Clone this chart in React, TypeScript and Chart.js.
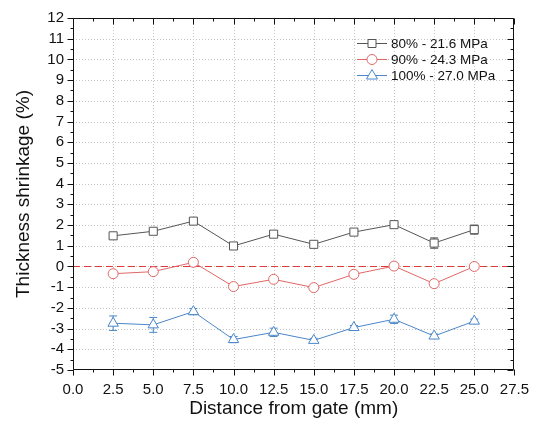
import React, { useEffect, useRef } from "react";
import { Chart, registerables } from "chart.js";
Chart.register(...registerables);

const distances = [2.5, 5, 7.5, 10, 12.5, 15, 17.5, 20, 22.5, 25];
const s80 = [1.48, 1.7, 2.19, 0.99, 1.56, 1.07, 1.66, 2.02, 1.13, 1.78];
const e80 = [0.1, 0.08, 0.1, 0.08, 0.1, 0.08, 0.1, 0.1, 0.25, 0.22];
const s90 = [-0.35, -0.25, 0.2, -0.97, -0.62, -1.02, -0.38, 0.02, -0.83, 0.0];
const e90 = [0.05, 0.08, 0.08, 0.05, 0.05, 0.05, 0.05, 0.05, 0.05, 0.05];
const s100 = [-2.74, -2.82, -2.18, -3.53, -3.18, -3.57, -2.95, -2.55, -3.36, -2.64];
const e100 = [0.35, 0.36, 0.15, 0.15, 0.2, 0.1, 0.1, 0.2, 0.1, 0.1];
const seriesLabels = ["80% - 21.6 MPa", "90% - 24.3 MPa", "100% - 27.0 MPa"];
const seriesColors = ["#555555", "#e06666", "#4a86c8"];
const seriesShapes = ["rect", "circle", "triangle"];
const errors = [e80, e90, e100];
const FONT = "'Liberation Sans', Arial, sans-serif";

function drawMarker(ctx: CanvasRenderingContext2D, shape: string, x: number, y: number, color: string) {
  ctx.save();
  ctx.setLineDash([]);
  ctx.strokeStyle = color;
  ctx.fillStyle = "#ffffff";
  ctx.lineWidth = 1;
  ctx.beginPath();
  if (shape === "rect") {
    ctx.rect(x - 4, y - 4, 8, 8);
  } else if (shape === "circle") {
    ctx.arc(x, y, 5, 0, Math.PI * 2);
  } else {
    ctx.moveTo(x, y - 6);
    ctx.lineTo(x + 5.5, y + 3.5);
    ctx.lineTo(x - 5.5, y + 3.5);
    ctx.closePath();
  }
  ctx.fill();
  ctx.stroke();
  ctx.restore();
}

const decor = {
  id: "decor",
  beforeDatasetsDraw(chart: any) {
    const { ctx, chartArea: a, scales } = chart;
    const x = scales.x, y = scales.y;
    ctx.save();
    ctx.strokeStyle = "#c4c4c4";
    ctx.lineWidth = 1;
    ctx.setLineDash([1, 2]);
    x.ticks.forEach((t: any) => {
      const px = Math.round(x.getPixelForValue(t.value)) + 0.5;
      if (px <= a.left + 1 || px >= a.right - 1) return;
      ctx.beginPath(); ctx.moveTo(px, a.top); ctx.lineTo(px, a.bottom); ctx.stroke();
    });
    y.ticks.forEach((t: any) => {
      const py = Math.round(y.getPixelForValue(t.value)) + 0.5;
      if (py <= a.top + 1 || py >= a.bottom - 1) return;
      ctx.beginPath(); ctx.moveTo(a.left, py); ctx.lineTo(a.right, py); ctx.stroke();
    });
    // zero reference line
    ctx.strokeStyle = "#e03a3a";
    ctx.setLineDash([7, 4]);
    const zy = Math.round(y.getPixelForValue(0)) + 0.5;
    ctx.beginPath(); ctx.moveTo(a.left, zy); ctx.lineTo(a.right, zy); ctx.stroke();
    // error bars
    ctx.setLineDash([]);
    chart.data.datasets.forEach((ds: any, i: number) => {
      const errs = errors[i];
      ctx.strokeStyle = seriesColors[i];
      ds.data.forEach((p: any, j: number) => {
        const px = x.getPixelForValue(p.x);
        const y1 = y.getPixelForValue(p.y + errs[j]);
        const y2 = y.getPixelForValue(p.y - errs[j]);
        ctx.beginPath();
        ctx.moveTo(px, y1); ctx.lineTo(px, y2);
        ctx.moveTo(px - 4, y1); ctx.lineTo(px + 4, y1);
        ctx.moveTo(px - 4, y2); ctx.lineTo(px + 4, y2);
        ctx.stroke();
      });
    });
    ctx.restore();
  },
  afterDraw(chart: any) {
    const { ctx, chartArea: a, scales } = chart;
    const x = scales.x, y = scales.y;
    ctx.save();
    ctx.setLineDash([]);
    ctx.strokeStyle = "#111111";
    ctx.lineWidth = 1;
    const L = Math.round(a.left) + 0.5, R = Math.round(a.right) - 0.5;
    const T = Math.round(a.top) + 0.5, B = Math.round(a.bottom) - 0.5;
    ctx.beginPath();
    ctx.rect(L, T, R - L, B - T);
    ctx.stroke();
    ctx.beginPath();
    // x ticks
    for (let v = 0; v <= 27.5 + 1e-6; v += 1.25) {
      const major = Math.abs(v / 2.5 - Math.round(v / 2.5)) < 1e-6;
      const px = Math.round(x.getPixelForValue(v)) + 0.5;
      const len = major ? 6 : 3;
      ctx.moveTo(px, B); ctx.lineTo(px, B + len);
      ctx.moveTo(px, T); ctx.lineTo(px, T + len);
    }
    // y ticks
    for (let v = -5; v <= 12 + 1e-6; v += 0.5) {
      const major = Math.abs(v - Math.round(v)) < 1e-6;
      const py = Math.round(y.getPixelForValue(v)) + 0.5;
      const len = major ? 6 : 3;
      ctx.moveTo(L, py); ctx.lineTo(L - len, py);
      ctx.moveTo(R, py); ctx.lineTo(R - len, py);
    }
    ctx.stroke();
    // legend
    const rowYs = [43, 59, 75];
    ctx.font = `13.5px ${FONT}`;
    ctx.textBaseline = "middle";
    ctx.textAlign = "left";
    seriesLabels.forEach((lab, i) => {
      const ry = rowYs[i] + 0.5;
      ctx.strokeStyle = seriesColors[i];
      ctx.beginPath(); ctx.moveTo(357, ry); ctx.lineTo(387, ry); ctx.stroke();
      drawMarker(ctx, seriesShapes[i], 372, ry, seriesColors[i]);
      ctx.fillStyle = "#111111";
      ctx.fillText(lab, 391, rowYs[i] + 1);
    });
    ctx.restore();
  },
};

export default function App() {
  const ref = useRef<HTMLCanvasElement | null>(null);
  useEffect(() => {
    document.body.style.margin = "0";
    const series = [s80, s90, s100];
    const chart = new Chart(ref.current as HTMLCanvasElement, {
      type: "line",
      data: {
        datasets: series.map((s, i) => ({
          label: seriesLabels[i],
          data: distances.map((d, j) => ({ x: d, y: s[j] })),
          borderColor: seriesColors[i],
          borderWidth: 1,
          pointStyle: seriesShapes[i] as any,
          pointRadius: i === 0 ? 5.7 : i === 1 ? 5 : 6,
          pointBorderColor: seriesColors[i],
          pointBackgroundColor: "#ffffff",
          pointBorderWidth: 1,
          tension: 0,
          fill: false,
        })),
      },
      options: {
        animation: false,
        responsive: false,
        layout: { padding: { top: 14, right: 24, left: 0, bottom: 0 } },
        plugins: { legend: { display: false }, tooltip: { enabled: false } },
        scales: {
          x: {
            type: "linear",
            min: 0,
            max: 27.5,
            grid: { display: false, drawTicks: false },
            border: { display: false },
            ticks: {
              stepSize: 2.5,
              autoSkip: false,
              maxRotation: 0,
              padding: 11,
              color: "#111111",
              font: { family: FONT, size: 15 },
              callback: (v: any) => Number(v).toFixed(1),
            },
            title: {
              display: true,
              text: "Distance from gate (mm)",
              color: "#111111",
              font: { family: FONT, size: 19 },
              padding: { top: 0, bottom: 8 },
            },
            afterFit: (s: any) => { s.height = 58; },
          },
          y: {
            type: "linear",
            min: -5,
            max: 12,
            grid: { display: false, drawTicks: false },
            border: { display: false },
            ticks: {
              stepSize: 1,
              autoSkip: false,
              padding: 9,
              color: "#111111",
              font: { family: FONT, size: 15 },
            },
            title: {
              display: true,
              text: "Thickness shrinkage (%)",
              color: "#111111",
              font: { family: FONT, size: 19 },
              padding: { top: 12, bottom: 0 },
            },
            afterFit: (s: any) => { s.width = 73; },
          },
        },
      },
      plugins: [decor],
    });
    return () => chart.destroy();
  }, []);
  return (
    <div style={{ width: 540, height: 428 }}>
      <canvas ref={ref} width={540} height={428} style={{ display: "block" }} />
    </div>
  );
}
